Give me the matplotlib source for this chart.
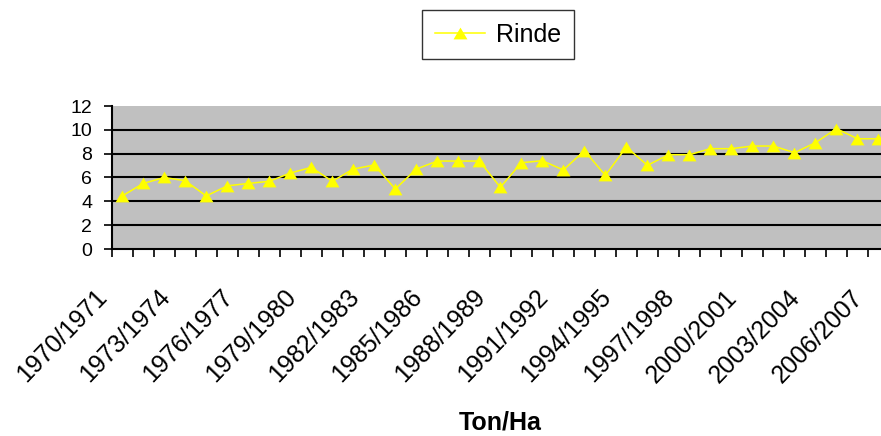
import numpy as np
import matplotlib
matplotlib.use("Agg")
import matplotlib.pyplot as plt
from matplotlib import font_manager
from matplotlib.transforms import ScaledTranslation

# campagne 1970/1971 .. 2006/2007
first_years = list(range(1970, 2007))
seasons = ["%d/%d" % (y, y + 1) for y in first_years]
rinde = [4.45, 5.5, 6.0, 5.73, 4.45, 5.3, 5.5, 5.68, 6.37, 6.85,
         5.68, 6.71, 7.05, 5.03, 6.71, 7.38, 7.38, 7.38, 5.18, 7.24,
         7.41, 6.63, 8.25, 6.18, 8.56, 7.02, 7.91, 7.91, 8.42, 8.42,
         8.64, 8.64, 8.08, 8.92, 10.1, 9.25, 9.25]
y_ticks = [0, 2, 4, 6, 8, 10, 12]
label_every = 3

names = {f.name for f in font_manager.fontManager.ttflist}
base = "Liberation Sans" if "Liberation Sans" in names else "DejaVu Sans"
narrow = "Liberation Sans Narrow" if "Liberation Sans Narrow" in names else base
plt.rcParams["font.family"] = [base, "DejaVu Sans"]

W, H = 881, 436
fig = plt.figure(figsize=(W / 100, H / 100), dpi=100)
# l, b, w, h in pixel -> l'asse continua oltre il bordo destro (come nell'originale)
l, r, t, b = 111.7, 889.0, 106.0, 249.0
ax = fig.add_axes([l / W, 1 - b / H, (r - l) / W, (b - t) / H])
ax.set_facecolor("#C0C0C0")

x = np.arange(len(rinde))
tri = [(-1, -0.85), (1, -0.85), (0, 0.85)]
ax.plot(x, rinde, "-", color="#FFFF00", lw=1.1, marker=tri, ms=10,
        mfc="#FFFF00", mec="#FFFF00", mew=0, label="Rinde", zorder=3)

ax.set_xlim(-0.5, len(rinde) - 0.5)
ax.set_ylim(0, 12)
for v in y_ticks[1:-1]:
    ax.axhline(v, color="#000000", lw=1.5, zorder=1)

for s in ("top", "right"):
    ax.spines[s].set_visible(False)
for s in ("left", "bottom"):
    ax.spines[s].set_color("black")
    ax.spines[s].set_linewidth(1.5)

ax.set_yticks(y_ticks)
ax.set_yticklabels([str(v) for v in y_ticks], family=[narrow, "DejaVu Sans"], fontsize=14)
ax.tick_params(axis="y", direction="out", length=6, width=1.2, pad=8)

# tacche ai confini di categoria, etichette ogni 3 campagne
ax.set_xticks(np.arange(-0.5, len(rinde), 1.0), minor=True)
ax.tick_params(axis="x", which="minor", direction="out", length=6, width=1.2)
maj = x[::label_every]
ax.set_xticks(maj)
ax.set_xticklabels([seasons[i] for i in maj], rotation=46, ha="right", va="center",
                   rotation_mode="anchor", fontsize=18)
ax.tick_params(axis="x", which="major", length=0, pad=32)
off = ScaledTranslation(-0.19, 0, fig.dpi_scale_trans)
for lab in ax.get_xticklabels():
    lab.set_transform(lab.get_transform() + off)

cx = (l + r) / 2 / W
fig.text(cx, 1 - 422 / H, "Ton/Ha", ha="center", va="center", fontsize=18, weight="bold")

leg = fig.legend(loc="center", bbox_to_anchor=(498 / W, 1 - 35 / H), fontsize=18,
                 frameon=True, fancybox=False, edgecolor="black", handlelength=2.0,
                 borderpad=0.5, handletextpad=0.45)
leg.get_frame().set_linewidth(1.0)

fig.savefig("out.png", dpi=100)
